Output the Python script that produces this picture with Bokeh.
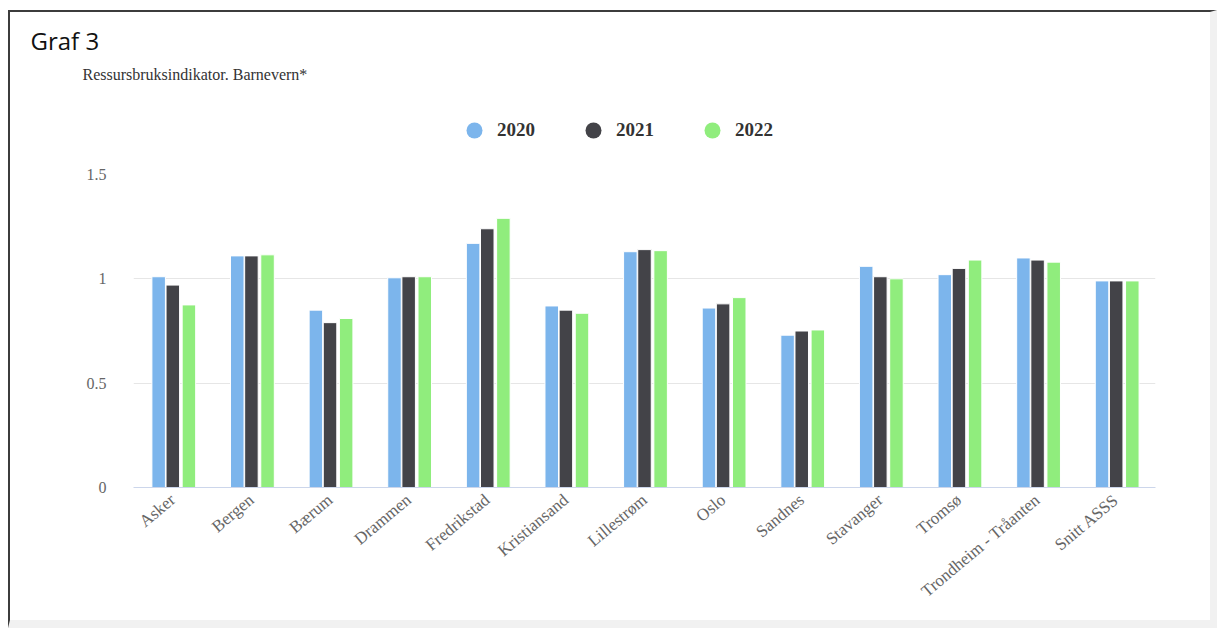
import math
from bokeh.plotting import figure
from bokeh.layouts import column
from bokeh.models import (ColumnDataSource, FactorRange, Range1d, FixedTicker, NumeralTickFormatter,
                          Legend, LegendItem, Title)
from bokeh.transform import dodge
from bokeh.embed import file_html
from bokeh.resources import INLINE

categories = ["Asker", "Bergen", "Bærum", "Drammen", "Fredrikstad", "Kristiansand", "Lillestrøm",
              "Oslo", "Sandnes", "Stavanger", "Tromsø", "Trondheim - Tråanten", "Snitt ASSS"]
v2020 = [1.01, 1.11, 0.85, 1.005, 1.17, 0.87, 1.13, 0.86, 0.73, 1.06, 1.02, 1.10, 0.99]
v2021 = [0.97, 1.11, 0.79, 1.01, 1.24, 0.85, 1.14, 0.88, 0.75, 1.01, 1.05, 1.09, 0.99]
v2022 = [0.875, 1.115, 0.81, 1.01, 1.29, 0.835, 1.135, 0.91, 0.755, 1.00, 1.09, 1.08, 0.99]
series_names = ["2020", "2021", "2022"]
colors = ["#7cb5ec", "#434348", "#90ed7d"]
y_ticks = [0, 0.5, 1, 1.5]
chart_label = "Graf 3"
subtitle = "Ressursbruksindikator. Barnevern*"

W = 1200
H1, H2 = 150, 458

# ---------- header: chart label, subtitle, legend ----------
hdr = figure(width=W, height=H1, x_range=Range1d(0, 1), y_range=Range1d(0, 1),
             title=chart_label, output_backend="svg", toolbar_location=None,
             min_border_left=123, min_border_right=55, min_border_top=72, min_border_bottom=0,
             x_axis_location=None, y_axis_location=None)
hdr.grid.visible = False
hdr.outline_line_color = None
hdr.background_fill_color = "white"
hdr.border_fill_color = "white"
hdr.title.align = "left"
hdr.title.offset = -103
hdr.title.standoff = 11
hdr.title.text_font = "Open Sans"
hdr.title.text_font_size = "24px"
hdr.title.text_font_style = "normal"
hdr.title.text_color = "#111111"
hdr.add_layout(Title(text=subtitle, align="left", offset=-51, standoff=3,
                     text_font="Liberation Serif", text_font_size="16px",
                     text_font_style="normal", text_color="#333333"), "above")

items = []
for name, c in zip(series_names, colors):
    r = hdr.scatter(x=[math.nan], y=[math.nan], marker="circle", size=16,
                    fill_color=c, line_color=None)
    items.append(LegendItem(label=name, renderers=[r], index=0))
legend = Legend(items=items, orientation="horizontal", location=(321, 12),
                glyph_width=40, glyph_height=40, label_standoff=3, spacing=38, padding=0,
                margin=0, border_line_color=None, background_fill_alpha=0,
                label_text_font="Liberation Serif", label_text_font_style="bold",
                label_text_font_size="19px", label_text_color="#333333")
hdr.add_layout(legend, "center")

# ---------- main bar chart ----------
source = ColumnDataSource(data=dict(cat=categories, y2020=v2020, y2021=v2021, y2022=v2022))
p = figure(width=W, height=H2, x_range=FactorRange(*categories), y_range=Range1d(0, 1.5),
           output_backend="svg", toolbar_location=None,
           min_border_left=123, min_border_right=55, min_border_top=12,
           min_border_bottom=133)
p.outline_line_color = None
p.background_fill_color = "white"
p.border_fill_color = "white"

offsets = [-0.18, 0.0, 0.205]
cols = ["y2020", "y2021", "y2022"]
for col, off, c in zip(cols, offsets, colors):
    p.vbar(x=dodge("cat", off, range=p.x_range), top=col, width=0.172, source=source,
           fill_color=c, line_color="white", line_width=1)

p.xgrid.grid_line_color = None
p.ygrid.grid_line_color = "#e6e6e6"
p.ygrid.grid_line_width = 1
p.yaxis.ticker = FixedTicker(ticks=y_ticks)
p.yaxis.formatter = NumeralTickFormatter(format="0.[0]")
p.yaxis.axis_line_color = None
p.yaxis.major_tick_line_color = None
p.yaxis.minor_tick_line_color = None
p.yaxis.major_tick_out = 0
p.yaxis.minor_tick_out = 0
p.yaxis.major_label_standoff = 27
p.yaxis.major_label_text_font = "Liberation Serif"
p.yaxis.major_label_text_font_size = "16px"
p.yaxis.major_label_text_color = "#666666"

p.xaxis.axis_line_color = "#ccd6eb"
p.xaxis.major_tick_line_color = None
p.xaxis.minor_tick_line_color = None
p.xaxis.major_tick_out = 0
p.xaxis.minor_tick_out = 0
p.xaxis.major_label_orientation = 0.70
p.xaxis.major_label_standoff = 10
p.xaxis.major_label_text_font = "Liberation Serif"
p.xaxis.major_label_text_font_size = "17px"
p.xaxis.major_label_text_color = "#666666"

layout = column(hdr, p, spacing=0)
layout.styles = {"position": "relative", "left": "8px", "top": "10px",
                 "border-top": "2px solid #3c3c3c", "border-left": "2px solid #3c3c3c",
                 "border-right": "7px solid #f1f1f1", "border-bottom": "8px solid #f1f1f1"}

open("out.html", "w").write(file_html(layout, INLINE))
